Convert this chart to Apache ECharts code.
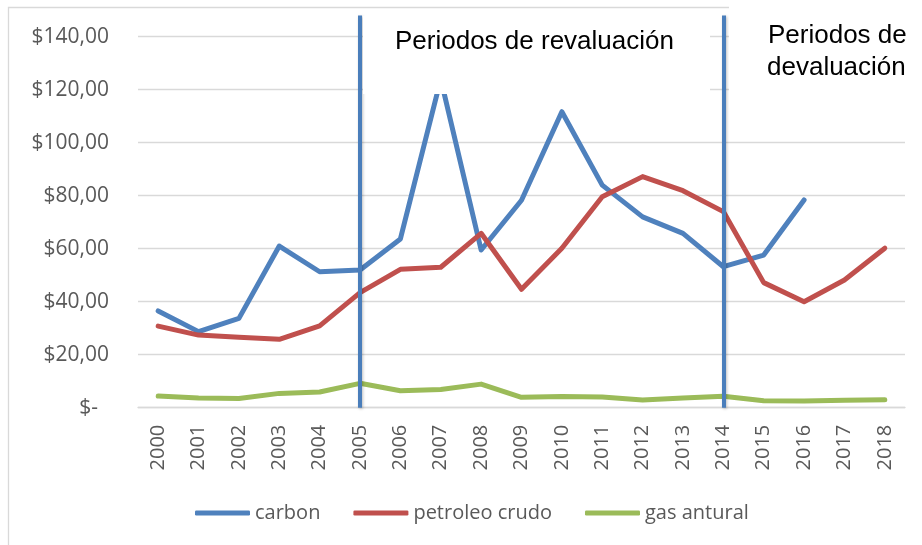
<!DOCTYPE html>
<html>
<head>
<meta charset="utf-8">
<title>carbon, petroleo crudo, gas antural</title>
<script src="https://cdn.jsdelivr.net/npm/echarts@6/dist/echarts.min.js"></script>
<style>
  html, body { margin: 0; padding: 0; background: #fff; }
  #chart { width: 922px; height: 545px; }
</style>
</head>
<body>
<div id="chart"></div>
<script>
// datos
var years = ['2000','2001','2002','2003','2004','2005','2006','2007','2008','2009',
             '2010','2011','2012','2013','2014','2015','2016','2017','2018'];
var carbon = [36.5, 28.7, 33.7, 61.0, 51.3, 52.0, 63.7, 124.0, 59.5, 78.3,
              111.7, 84.0, 72.0, 65.8, 53.2, 57.6, 78.4, null, null];
var petroleo = [30.8, 27.4, 26.6, 25.8, 30.9, 43.4, 52.2, 53.0, 65.8, 44.7,
                60.2, 79.6, 87.2, 81.9, 74.0, 47.2, 40.0, 48.2, 60.2];
var gas = [4.4, 3.7, 3.5, 5.4, 5.9, 9.2, 6.4, 6.9, 8.9, 3.9,
           4.2, 4.0, 2.9, 3.7, 4.3, 2.6, 2.5, 2.8, 3.0];
var seriesNames = ['carbon', 'petroleo crudo', 'gas antural'];
var periodYears = ['2005', '2014'];
var periodTexts = ['Periodos de revaluación', 'Periodos de', 'devaluación'];

var labelFont = '"Open Sans", "Noto Sans", sans-serif';
var noteFont = '"Liberation Sans", Arial, sans-serif';

let myChart = echarts.init(document.getElementById('chart'));

function lineSeries(name, data, color) {
  return {
    name: name,
    type: 'line',
    data: data,
    symbol: 'none',
    connectNulls: false,
    lineStyle: { color: color, width: 5, cap: 'round', join: 'round' },
    itemStyle: { color: color }
  };
}

let series = [
  lineSeries(seriesNames[0], carbon, '#4f81bd'),
  lineSeries(seriesNames[1], petroleo, '#c0504d'),
  lineSeries(seriesNames[2], gas, '#9bbb59')
];
// lineas verticales de los periodos
series[0].markLine = {
  silent: true,
  symbol: ['none', 'none'],
  label: { show: false },
  lineStyle: {
    color: '#4a7ebb', width: 4, type: 'solid',
    shadowColor: 'rgba(0,0,0,0.25)', shadowBlur: 3, shadowOffsetX: 1, shadowOffsetY: 1
  },
  data: periodYears.map(function (y) { return { xAxis: y }; })
};

let option = {
  animation: false,
  backgroundColor: '#fff',
  grid: { left: 138, right: 17, top: 15.5, bottom: 137.3 },
  legend: {
    left: 190,
    top: 497,
    data: seriesNames,
    icon: 'roundRect',
    itemWidth: 55,
    itemHeight: 5,
    itemGap: 33,
    textStyle: { fontFamily: labelFont, fontSize: 20, color: '#595959', lineHeight: 22 }
  },
  xAxis: {
    type: 'category',
    data: years,
    boundaryGap: true,
    axisTick: { show: false },
    axisLine: { lineStyle: { color: '#d9d9d9', width: 1.3 } },
    axisLabel: {
      rotate: 90, margin: 17, interval: 0,
      fontFamily: labelFont, fontSize: 20, color: '#595959'
    }
  },
  yAxis: {
    type: 'value',
    min: 0,
    max: 148,
    interval: 20,
    axisLine: { show: false },
    axisTick: { show: false },
    splitLine: { showMaxLine: false, lineStyle: { color: '#d9d9d9', width: 1.3 } },
    axisLabel: {
      margin: 29,
      fontFamily: labelFont, fontSize: 21, color: '#595959',
      formatter: function (v) {
        if (v % 20 !== 0) return '';
        if (v === 0) return '$-  ';
        return '$' + v + ',00';
      }
    }
  },
  graphic: [
    { type: 'rect', z: 0, silent: true,
      shape: { x: 8.5, y: 7.5, width: 1000, height: 1000 },
      style: { fill: 'none', stroke: '#d9d9d9', lineWidth: 1.3 } },
    { type: 'rect', z: 10, silent: true,
      shape: { x: 363, y: 16, width: 347, height: 78 },
      style: { fill: '#fff' } },
    { type: 'rect', z: 10, silent: true,
      shape: { x: 729, y: 0, width: 193, height: 108 },
      style: { fill: '#fff' } },
    { type: 'text', z: 11, silent: true, x: 395, y: 41.5,
      style: { text: periodTexts[0], font: '26px ' + noteFont, fill: '#000', verticalAlign: 'middle' } },
    { type: 'text', z: 11, silent: true, x: 768, y: 36,
      style: { text: periodTexts[1], font: '26px ' + noteFont, fill: '#000', verticalAlign: 'middle' } },
    { type: 'text', z: 11, silent: true, x: 767, y: 68,
      style: { text: periodTexts[2], font: '26px ' + noteFont, fill: '#000', verticalAlign: 'middle' } }
  ],
  series: series
};
myChart.setOption(option);
window.addEventListener('resize', function () { myChart.resize(); });
</script>
</body>
</html>
